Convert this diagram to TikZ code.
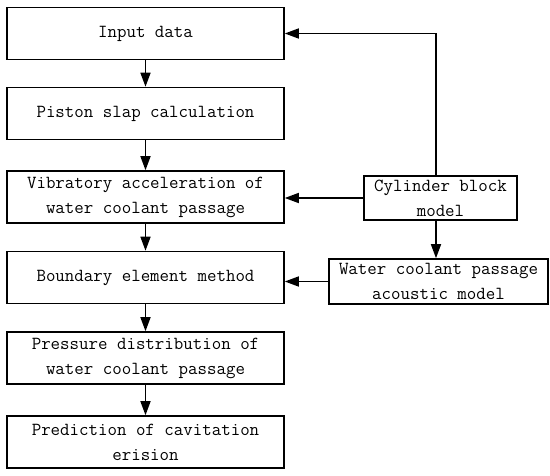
\documentclass[tikz,border=0pt]{standalone}
\usetikzlibrary{arrows.meta}
\begin{document}
\begin{tikzpicture}[x=1pt,y=-1pt,
  box/.style={draw,line width=1.6pt,rectangle,minimum width=277pt,minimum height=52pt,align=center,inner sep=0pt,font=\ttfamily\fontsize{18.4}{25}\selectfont},
  rbox/.style={box,minimum height=44pt},
  arr/.style={line width=1.6pt,-{Triangle[length=14pt,width=10pt]}}]
\useasboundingbox (0,0) rectangle (550,476);
\node[box] (in) at (145.5,33.5) {Input data};
\node[box] (ps) at (145.5,113.5) {Piston slap calculation};
\node[box] (va) at (145.5,197) {Vibratory acceleration of\\water coolant passage};
\node[box] (be) at (145.5,277.5) {Boundary element method};
\node[box] (pd) at (145.5,358) {Pressure distribution of\\water coolant passage};
\node[box] (pc) at (145.5,442) {Prediction of cavitation\\erision};
\node[rbox,minimum width=153pt] (cyl) at (440.5,198) {Cylinder block\\model};
\node[rbox,minimum width=219pt,minimum height=45pt] (wc) at (438.5,281.5) {Water coolant passage\\acoustic model};
\draw[arr] (in) -- (ps);
\draw[arr] (ps) -- (va);
\draw[arr] (va) -- (be);
\draw[arr] (be) -- (pd);
\draw[arr] (pd) -- (pc);
\draw[arr] ([xshift=-4.5pt]cyl.north) |- (in.east);
\draw[arr] ([xshift=-4.5pt]cyl.south) -- ([xshift=-4.5pt]cyl.south |- wc.north);
\draw[arr] (cyl.west) -- (cyl.west -| va.east);
\draw[arr] (wc.west) -- (wc.west -| be.east);
\end{tikzpicture}
\end{document}
